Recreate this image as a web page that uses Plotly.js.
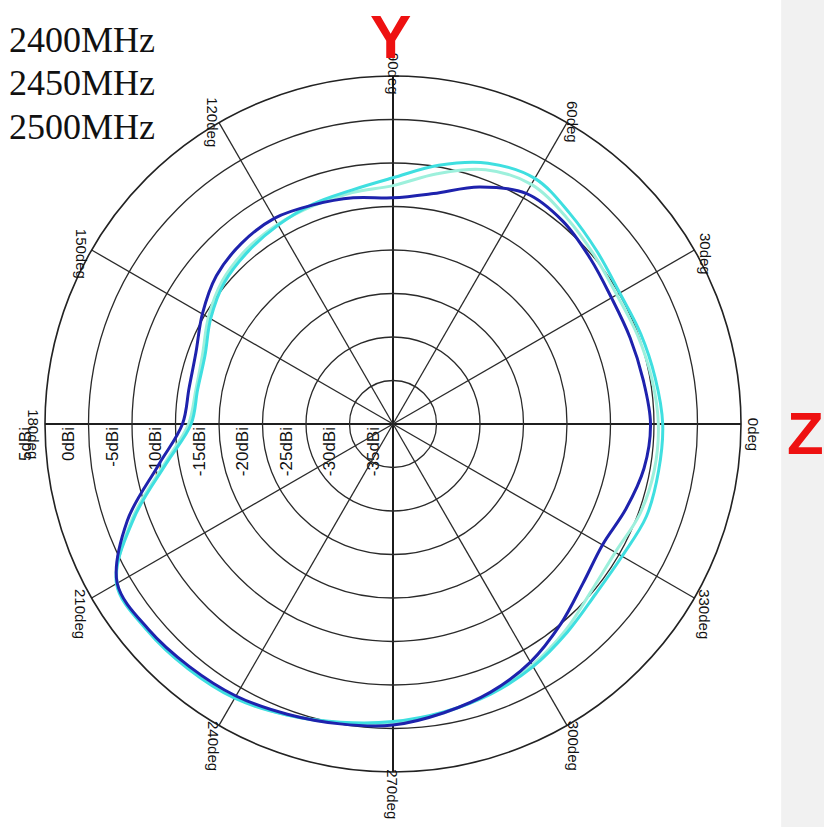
<!DOCTYPE html>
<html>
<head>
<meta charset="utf-8">
<script src="https://cdn.plot.ly/plotly-3.0.1.min.js"></script>
<style>html,body{margin:0;padding:0;background:#fff;}#chart{width:824px;height:827px;}</style>
</head>
<body>
<div id="chart"></div>
<script>
// ---- data ----
const seriesNames = ["2400MHz", "2450MHz", "2500MHz"];
const thetaDeg = [0,10,20,30,40,50,60,70,80,90,100,110,120,130,140,150,160,170,180,
                  190,200,210,220,230,240,250,260,270,280,290,300,310,320,330,340,350,360];
const gain2400 = [-5.4,-5.8,-6.0,-6.0,-5.4,-4.6,-4.4,-6.0,-8.1,-9.0,-8.6,-8.2,-7.7,-7.9,-8.5,-9.7,-10.9,-11.2,-10.8,
                  -7.6,-2.5,1.6,1.7,1.4,1.1,0.5,0.0,-0.4,-1.3,-2.2,-3.4,-5.0,-6.5,-7.2,-6.5,-5.7,-5.4];
const gain2450 = [-4.5,-4.8,-5.1,-5.3,-4.8,-4.0,-3.2,-3.9,-5.8,-7.6,-8.0,-8.3,-8.5,-8.8,-9.4,-10.5,-11.7,-12.0,-11.5,
                  -8.3,-3.1,1.6,1.8,1.6,1.3,0.6,-0.1,-0.6,-1.3,-2.1,-3.0,-4.1,-5.2,-5.5,-4.8,-4.5,-4.5];
const gain2500 = [-4.0,-4.4,-4.7,-4.9,-4.3,-3.4,-2.4,-3.1,-4.8,-6.7,-7.7,-8.1,-8.6,-9.1,-9.7,-10.8,-12.0,-12.2,-11.8,
                  -8.5,-3.3,1.7,1.9,1.7,1.4,0.6,-0.2,-0.8,-1.4,-2.0,-2.8,-3.8,-4.6,-4.6,-4.0,-4.0,-4.0];
const ringVals = [-35,-30,-25,-20,-15,-10,-5,0,5];
const ringLabels = ["-35dBi","-30dBi","-25dBi","-20dBi","-15dBi","-10dBi","-5dBi","0dBi","5dBi"];
const angleVals = [0,30,60,90,120,150,180,210,240,270,300,330];
const angleLabels = ["0deg","30deg","60deg","90deg","120deg","150deg","180deg","210deg","240deg","270deg","300deg","330deg"];
const axisLetters = ["Y", "Z"];

const colors = ["#1e22ad", "#9df0dc", "#3fdfe0"];
const seriesData = [gain2400, gain2450, gain2500];

// ---- geometry ----
const W = 824, H = 827;
const cx = 393, cy = 424, R = 348;          // main polar: centre and radius in px
const rMin = -35, rMax = 5;
const pxPerDb = R / (rMax - rMin);
const labelRangeMax = 8;                      // label polar reaches a little past the outer ring
const RL = pxPerDb * (labelRangeMax - rMin);
const domOf = rad => ({x:[(cx-rad)/W, (cx+rad)/W], y:[1-(cy+rad)/H, 1-(cy-rad)/H]});
const dom = domOf(R), domLab = domOf(RL);

const labelOffset = 2.3; // dBi labels sit just outside each ring
const labelPos = ringVals.map(v => v + labelOffset);

const traces = [];
traces.push({type:"scatterpolar", subplot:"polar", r:[], theta:[], mode:"lines", showlegend:false, hoverinfo:"skip"});
traces.push({type:"scatterpolar", subplot:"polar2", r:[], theta:[], mode:"lines", showlegend:false, hoverinfo:"skip"});
[1,2,0].forEach(i => {
  traces.push({
    type:"scatterpolar", subplot:"polar3",
    r: seriesData[i], theta: thetaDeg, mode:"lines",
    name: seriesNames[i],
    line:{color: colors[i], width:3, shape:"spline", smoothing:1},
    showlegend:false
  });
});

const tickFont = {family:"Liberation Sans, Arial, sans-serif", size:15, color:"#111"};
const hiddenAngular = {showgrid:false, showticklabels:false, showline:false, ticks:""};

// angular labels centred just past the outer ring
const fLab = 1.035, yShift = 10;
const angleAnnots = angleVals.map((a, i) => {
  const t = a * Math.PI / 180;
  const x = cx + R * fLab * Math.cos(t);
  const y = cy - R * fLab * Math.sin(t) + yShift;
  return {text: angleLabels[i], xref:"paper", yref:"paper", x: x/W, y: 1 - y/H,
          xanchor:"center", yanchor:"middle", textangle:90, showarrow:false, font: tickFont};
});

const layout = {
  width:W, height:H,
  margin:{l:0,r:0,t:0,b:0},
  paper_bgcolor:"#ffffff",
  showlegend:false,
  polar:{
    domain: domLab, bgcolor:"rgba(0,0,0,0)",
    angularaxis: Object.assign({rotation:0, direction:"counterclockwise"}, hiddenAngular),
    radialaxis:{
      range:[rMin, labelRangeMax], angle:180, side:"counterclockwise",
      tickmode:"array", tickvals: labelPos, ticktext: ringLabels,
      tickangle:90, ticks:"", showgrid:false, showline:false,
      tickfont: Object.assign({}, tickFont, {size:17})
    }
  },
  polar2:{
    domain: dom, bgcolor:"rgba(0,0,0,0)",
    angularaxis:{
      rotation:0, direction:"counterclockwise",
      tickmode:"array", tickvals:[0,90,180,270],
      showgrid:true, gridcolor:"#000", gridwidth:2,
      showticklabels:false, ticks:"", showline:false
    },
    radialaxis:{range:[rMin, rMax], showticklabels:false, ticks:"", showgrid:false, showline:false}
  },
  polar3:{
    domain: dom, bgcolor:"rgba(0,0,0,0)",
    angularaxis:{
      rotation:0, direction:"counterclockwise",
      tickmode:"array", tickvals: angleVals,
      showticklabels:false,
      showgrid:true, gridcolor:"#2a2a2a", gridwidth:1.3,
      showline:true, linecolor:"#222", linewidth:1.6, ticks:""
    },
    radialaxis:{
      range:[rMin, rMax], tickmode:"array", tickvals: ringVals,
      showticklabels:false, ticks:"", showline:false,
      showgrid:true, gridcolor:"#2a2a2a", gridwidth:1.3
    }
  },
  shapes:[
    {type:"rect", xref:"paper", yref:"paper", x0:0.948, x1:1, y0:0, y1:1, fillcolor:"#f1f1f1", line:{width:0}, layer:"below"}
  ],
  annotations: [
    ...angleAnnots,
    ...seriesNames.map((n, i) => ({
      text:n, xref:"paper", yref:"paper", x:0.008, y:[0.952, 0.900, 0.847][i],
      xanchor:"left", yanchor:"middle", showarrow:false,
      font:{family:"Liberation Serif, Times New Roman, serif", size:36, color:"#111"}
    })),
    {text:axisLetters[0], xref:"paper", yref:"paper", x:390/W, y:1, xanchor:"center", yanchor:"top",
     showarrow:false, font:{family:"Liberation Sans, Arial, sans-serif", size:62, color:"#ee1111", weight:"bold"}},
    {text:axisLetters[1], xref:"paper", yref:"paper", x:785/W, y:1-434/H, xanchor:"left", yanchor:"middle",
     showarrow:false, font:{family:"Liberation Sans, Arial, sans-serif", size:60, color:"#ee1111", weight:"bold"}}
  ]
};

Plotly.newPlot("chart", traces, layout, {staticPlot:true, displayModeBar:false});
</script>
</body>
</html>
